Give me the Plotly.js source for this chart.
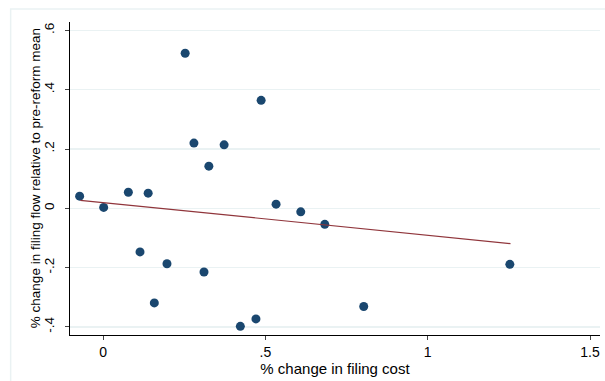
<!DOCTYPE html>
<html>
<head>
<meta charset="utf-8">
<script src="https://cdn.plot.ly/plotly-3.0.1.min.js"></script>
<style>html,body{margin:0;padding:0;background:#fff;}#chart{width:605px;height:381px;}</style>
</head>
<body>
<div id="chart"></div>
<script>
// % change in filing cost
const costChange = [-0.072, 0.002, 0.078, 0.139, 0.114, 0.197, 0.158, 0.311, 0.423, 0.471,
                    0.253, 0.487, 0.280, 0.373, 0.326, 0.533, 0.609, 0.683, 0.803, 1.253];
// % change in filing flow relative to pre-reform mean
const flowChange = [0.041, 0.003, 0.054, 0.051, -0.147, -0.187, -0.319, -0.215, -0.398, -0.373,
                    0.523, 0.364, 0.220, 0.214, 0.142, 0.014, -0.012, -0.054, -0.331, -0.189];
// fitted line endpoints
const fitX = [-0.070, 1.255];
const fitY = [0.027, -0.119];

const xTickVals = [0, 0.5, 1, 1.5];
const xTickText = ['0', '.5', '1', '1.5'];
const yTickVals = [-0.4, -0.2, 0, 0.2, 0.4, 0.6];
const yTickText = ['-.4', '-.2', '0', '.2', '.4', '.6'];
const yTitle = '% change in filing flow relative to pre-reform mean';
const xTitle = '% change in filing cost';

const fam = 'Liberation Sans, Arial, sans-serif';
const yFont = {family: fam, size: 13.5, color: '#000'};
const xTickFont = {family: fam, size: 14, color: '#000'};
const xTitleFont = {family: fam, size: 15, color: '#000'};

const traces = [
  {x: costChange, y: flowChange, type: 'scatter', mode: 'markers',
   marker: {color: '#1a476f', size: 9}, hoverinfo: 'skip'},
  {x: fitX, y: fitY, type: 'scatter', mode: 'lines',
   line: {color: '#90353b', width: 1.2}, hoverinfo: 'skip'}
];

const layout = {
  width: 605, height: 381,
  margin: {l: 70, r: 5, t: 22, b: 46},
  paper_bgcolor: '#ffffff', plot_bgcolor: '#ffffff',
  showlegend: false,
  font: yFont,
  xaxis: {
    range: [-0.1017, 1.5307], tickvals: xTickVals, ticktext: xTickText,
    showgrid: false, zeroline: false, showline: true, linecolor: '#000', linewidth: 1,
    ticks: 'outside', ticklen: 4, tickcolor: '#444', tickfont: xTickFont,
    title: {text: xTitle, font: xTitleFont, standoff: 2}
  },
  yaxis: {
    range: [-0.4273, 0.6283], tickvals: yTickVals, ticktext: yTickText, tickangle: -90,
    showgrid: true, gridcolor: '#eaf2f3', gridwidth: 1.5, zeroline: false,
    showline: true, linecolor: '#000', linewidth: 1,
    ticks: 'outside', ticklen: 4, tickcolor: '#444', tickfont: yFont,
    ticklabelstandoff: 6
  },
  annotations: [
    {text: yTitle, xref: 'paper', yref: 'paper', x: -0.0648, y: 0.5,
     xanchor: 'center', yanchor: 'middle', textangle: -90, showarrow: false, font: yFont}
  ],
  shapes: [
    {type: 'rect', xref: 'paper', yref: 'paper', x0: -0.112, x1: 1.03, y0: -0.16, y1: 1.0415,
     line: {color: '#eaf2f3', width: 1.5}, fillcolor: 'rgba(0,0,0,0)', layer: 'below'}
  ]
};

Plotly.newPlot('chart', traces, layout, {staticPlot: true, displayModeBar: false});
</script>
</body>
</html>
